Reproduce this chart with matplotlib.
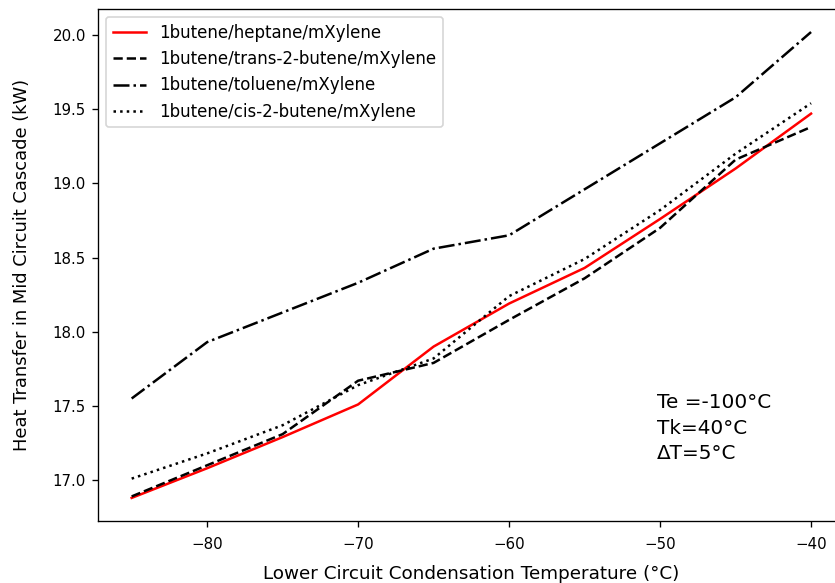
import matplotlib.pyplot as plt

temps = [-85, -80, -75, -70, -65, -60, -55, -50, -45, -40]
heptane = [16.88, 17.08, 17.29, 17.51, 17.90, 18.19, 18.43, 18.76, 19.10, 19.47]
trans2butene = [16.89, 17.10, 17.31, 17.67, 17.79, 18.08, 18.36, 18.70, 19.16, 19.38]
toluene = [17.55, 17.93, 18.13, 18.33, 18.56, 18.65, 18.96, 19.27, 19.58, 20.02]
cis2butene = [17.01, 17.18, 17.37, 17.64, 17.82, 18.24, 18.49, 18.82, 19.20, 19.54]


def main():
    fig = plt.figure(figsize=(835 / 120, 583 / 120), dpi=120)
    ax = fig.add_axes([0.117, 0.106, 0.895, 0.879])
    ax.plot(temps, heptane, color="red", linestyle="-", label="1butene/heptane/mXylene")
    ax.plot(temps, trans2butene, color="black", linestyle="--", label="1butene/trans-2-butene/mXylene")
    ax.plot(temps, toluene, color="black", linestyle="-.", label="1butene/toluene/mXylene")
    ax.plot(temps, cis2butene, color="black", linestyle=":", label="1butene/cis-2-butene/mXylene")
    ax.set_xlabel("Lower Circuit Condensation Temperature (°C)", fontsize=11, labelpad=8)
    ax.set_ylabel("Heat Transfer in Mid Circuit Cascade (kW)", fontsize=10.7, labelpad=13)
    ax.tick_params(labelsize=9)
    ax.tick_params(axis="x", pad=6)
    ax.legend(loc="upper left", fontsize=10)
    ax.text(-50.2, 17.35, "Te =-100°C\nTk=40°C\nΔT=5°C", fontsize=12,
            va="center", ha="left", linespacing=1.45)
    fig.savefig("out.png", dpi=120)


if __name__ == "__main__":
    main()
